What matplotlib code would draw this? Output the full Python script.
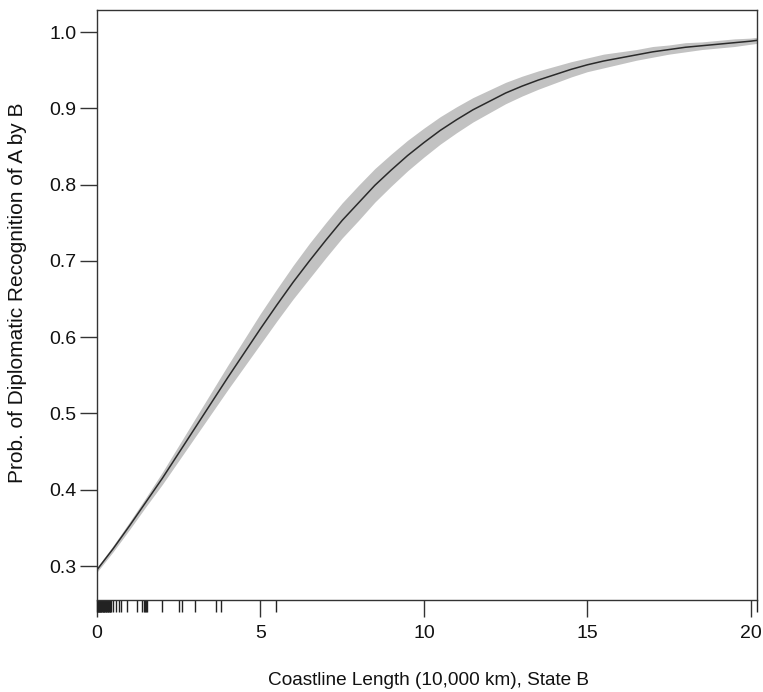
import matplotlib
matplotlib.use("Agg")
import matplotlib.pyplot as plt

# Valeurs
coast = [0, 0.5, 1, 1.5, 2, 2.5, 3, 3.5, 4, 4.5, 5, 5.5, 6, 6.5, 7, 7.5, 8, 8.5, 9, 9.5,
         10, 10.5, 11, 11.5, 12, 12.5, 13, 13.5, 14, 14.5, 15, 15.5, 16, 16.5, 17, 17.5,
         18, 18.5, 19, 19.5, 20, 20.18]
prob = [0.295, 0.323, 0.353, 0.384, 0.415, 0.448, 0.481, 0.514, 0.547, 0.579, 0.611,
        0.642, 0.672, 0.700, 0.727, 0.753, 0.776, 0.799, 0.819, 0.838, 0.855, 0.871,
        0.885, 0.898, 0.909, 0.920, 0.929, 0.937, 0.944, 0.951, 0.957, 0.962, 0.966,
        0.970, 0.974, 0.977, 0.980, 0.982, 0.984, 0.986, 0.988, 0.989]
lower = [0.292, 0.319, 0.348, 0.378, 0.407, 0.438, 0.469, 0.500, 0.531, 0.561, 0.591,
         0.621, 0.650, 0.677, 0.704, 0.730, 0.753, 0.777, 0.798, 0.818, 0.836, 0.853,
         0.868, 0.882, 0.894, 0.906, 0.916, 0.925, 0.933, 0.941, 0.948, 0.953, 0.958,
         0.963, 0.967, 0.971, 0.974, 0.977, 0.979, 0.981, 0.984, 0.985]
upper = [0.298, 0.327, 0.358, 0.390, 0.423, 0.458, 0.493, 0.528, 0.563, 0.597, 0.631,
         0.663, 0.694, 0.723, 0.750, 0.776, 0.799, 0.821, 0.840, 0.858, 0.874, 0.889,
         0.902, 0.914, 0.924, 0.934, 0.942, 0.949, 0.955, 0.961, 0.966, 0.971, 0.974,
         0.977, 0.981, 0.983, 0.986, 0.987, 0.989, 0.991, 0.992, 0.993]

# Observations (rug)
rug = [0.00, 0.02, 0.03, 0.05, 0.06, 0.08, 0.10, 0.11, 0.13, 0.15, 0.17, 0.19, 0.21,
       0.23, 0.25, 0.27, 0.29, 0.31, 0.33, 0.35, 0.37, 0.39, 0.41, 0.43,
       0.48, 0.57, 0.67, 0.75, 0.93, 1.21, 1.37, 1.43, 1.46, 1.49, 1.52,
       2.00, 2.52, 2.60, 3.00, 3.64, 3.78, 5.47, 20.18]

xticks = [0, 5, 10, 15, 20]
yticks = [0.3, 0.4, 0.5, 0.6, 0.7, 0.8, 0.9, 1.0]

plt.rcParams['font.family'] = ['Liberation Sans', 'DejaVu Sans']

fig = plt.figure(figsize=(7.63, 6.92), dpi=100)
ax = fig.add_axes([0.1271, 0.1329, 0.8646, 0.8526])

ax.fill_between(coast, lower, upper, color='#c2c2c2', linewidth=0)
ax.plot(coast, prob, color='#2a2a2a', linewidth=1.1)

ax.vlines(rug, 0, -0.0203, transform=ax.get_xaxis_transform(),
          color='#222222', linewidth=1.0, clip_on=False)

ax.set_xlim(0, 20.18)
ax.set_ylim(0.2554, 1.0288)
ax.set_xticks(xticks)
ax.set_xticklabels([str(t) for t in xticks])
ax.set_yticks(yticks)
ax.set_yticklabels([f"{t:.1f}" for t in yticks])

for s in ax.spines.values():
    s.set_color('#333333')
    s.set_linewidth(1.0)
ax.tick_params(direction='out', length=12, width=1.0, color='#333333',
               labelsize=14, labelcolor='#111111')
ax.tick_params(axis='x', pad=6)
ax.tick_params(axis='y', pad=3)

ax.set_xlabel("Coastline Length (10,000 km), State B", fontsize=13.7,
              color='#111111', va='center')
ax.xaxis.set_label_coords(0.502, -0.137)
ax.set_ylabel("Prob. of Diplomatic Recognition of A by B", fontsize=15,
              color='#111111', va='center')
ax.yaxis.set_label_coords(-0.12, 0.52)

fig.savefig("out.png", dpi=100)
